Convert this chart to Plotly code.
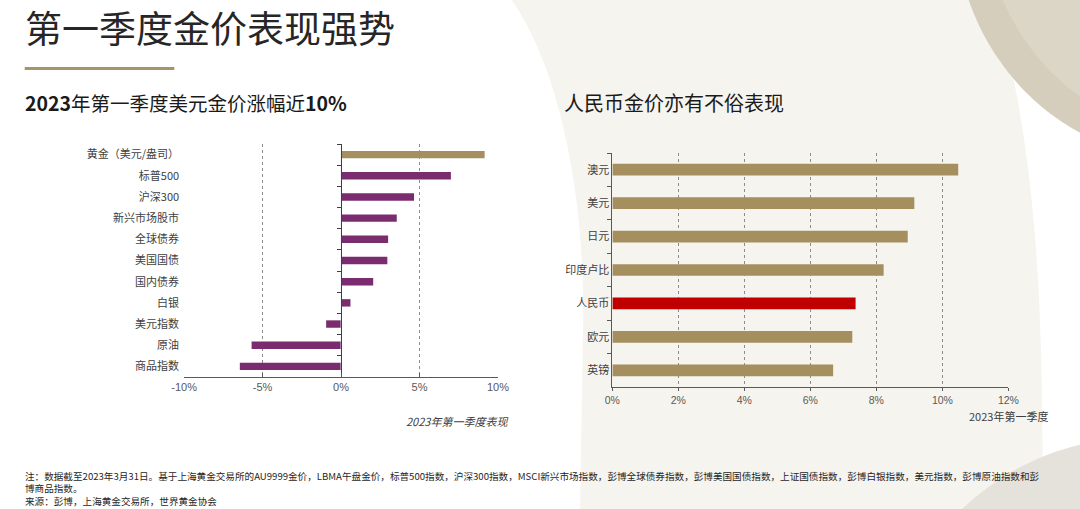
import plotly.graph_objects as go

W, H = 1080, 509

# ---------------- data ----------------
left_cats = ["黄金（美元/盎司）", "标普500", "沪深300", "新兴市场股市", "全球债券", "美国国债",
             "国内债券", "白银", "美元指数", "原油", "商品指数"]
left_vals = [9.15, 7.0, 4.65, 3.55, 3.0, 2.95, 2.05, 0.6, -0.95, -5.7, -6.45]
left_ticks = [-10, -5, 0, 5, 10]
left_ticktext = ["-10%", "-5%", "0%", "5%", "10%"]

right_cats = ["澳元", "美元", "日元", "印度卢比", "人民币", "欧元", "英镑"]
right_vals = [10.48, 9.15, 8.95, 8.22, 7.37, 7.27, 6.69]
right_ticks = [0, 2, 4, 6, 8, 10, 12]
right_ticktext = ["0%", "2%", "4%", "6%", "8%", "10%", "12%"]

title = "第一季度金价表现强势"
left_title = "<b>2023</b>年第一季度美元金价涨幅近<b>10%</b>"
right_title = "人民币金价亦有不俗表现"
left_xtitle = "<i>2023年第一季度表现</i>"
right_xtitle = "2023年第一季度"
notes = [
    "注：数据截至2023年3月31日。基于上海黄金交易所的AU9999金价，LBMA午盘金价，标普500指数，沪深300指数，MSCI新兴市场指数，彭博全球债券指数，彭博美国国债指数，上证国债指数，彭博白银指数，美元指数，彭博原油指数和彭",
    "博商品指数。",
    "来源：彭博，上海黄金交易所，世界黄金协会",
]

GOLD = "#a58f5f"
PURPLE = "#7b2c6f"
RED = "#c00000"
CJK = "Noto Sans CJK SC"
LAT = "Liberation Sans, Noto Sans CJK SC"


def px(x):
    return x / W


def py(y):
    return 1 - y / H


# domains (pixel-derived)
L_x0, L_x1 = 175, 496
L_y0, L_y1 = 144, 377
R_x0, R_x1 = 613, 1018
R_y0, R_y1 = 153, 387

fig = go.Figure()

left_colors = [GOLD] + [PURPLE] * (len(left_cats) - 1)
fig.add_trace(go.Bar(x=left_vals, y=left_cats, orientation="h", width=0.35,
                     marker=dict(color=left_colors, line=dict(width=0)),
                     xaxis="x", yaxis="y", showlegend=False, hoverinfo="skip"))
# helper trace for the centre axis (ticks at category boundaries)
fig.add_trace(go.Bar(x=[0] * len(left_cats), y=left_cats, orientation="h",
                     marker=dict(color="rgba(0,0,0,0)"),
                     xaxis="x", yaxis="y2", showlegend=False, hoverinfo="skip"))

right_colors = [RED if c == "人民币" else GOLD for c in right_cats]
fig.add_trace(go.Bar(x=right_vals, y=right_cats, orientation="h", width=0.35,
                     marker=dict(color=right_colors, line=dict(width=0)),
                     xaxis="x2", yaxis="y3", showlegend=False, hoverinfo="skip"))

zero_pos = px(L_x0 + (0 - left_ticks[0]) / (left_ticks[-1] - left_ticks[0]) * (L_x1 - L_x0))

fig.update_layout(
    width=W, height=H,
    margin=dict(l=0, r=0, t=0, b=0),
    paper_bgcolor="white",
    plot_bgcolor="rgba(0,0,0,0)",
    font=dict(family=CJK, color="#404040", size=11),
    xaxis=dict(domain=[px(L_x0), px(L_x1)], range=[left_ticks[0], left_ticks[-1]],
               tickvals=left_ticks, ticktext=left_ticktext, anchor="y",
               showline=True, linecolor="#595959", linewidth=1,
               ticks="inside", ticklen=4, tickcolor="#595959",
               showgrid=True, gridcolor="#8c8c8c", griddash="dot", gridwidth=1,
               zeroline=False, tickfont=dict(family=LAT, size=11, color="#595959"),
               fixedrange=True),
    yaxis=dict(domain=[py(L_y1), py(L_y0)], anchor="x", autorange="reversed",
               showline=False, ticks="", showgrid=False, ticklabelstandoff=4,
               tickfont=dict(family=CJK, size=11, color="#404040"), fixedrange=True),
    yaxis2=dict(overlaying="y", matches="y", anchor="free", position=zero_pos,
                showline=True, linecolor="#404040", linewidth=1,
                ticks="outside", tickson="boundaries", ticklen=4, tickcolor="#404040",
                showticklabels=False, showgrid=False, fixedrange=True),
    xaxis2=dict(domain=[px(R_x0), px(R_x1)], range=[right_ticks[0], right_ticks[-1]],
                tickvals=right_ticks, ticktext=right_ticktext, anchor="y3",
                showline=True, linecolor="#595959", linewidth=1,
                ticks="outside", ticklen=3, tickcolor="#595959",
                showgrid=True, gridcolor="#8c8c8c", griddash="dot", gridwidth=1,
                zeroline=False, tickfont=dict(family=LAT, size=10.5, color="#595959"),
                fixedrange=True),
    yaxis3=dict(domain=[py(R_y1), py(R_y0)], anchor="x2", autorange="reversed",
                showline=True, linecolor="#595959", linewidth=1,
                ticks="outside", tickson="boundaries", ticklen=4, tickcolor="#595959",
                showgrid=False, tickfont=dict(family=CJK, size=11, color="#404040"),
                fixedrange=True),
)

# ---------------- background decoration ----------------
def P(x, y):
    return f"{px(x):.5f},{py(y):.5f}"

cream_path = ("M " + P(510, 0) + " C " + P(560, 70) + " " + P(586, 200) + " " + P(583, 330) +
              " L " + P(580, 509) + " L " + P(1050, 509) + " L " + P(1053, 450) +
              " C " + P(1052, 260) + " " + P(1042, 140) + " " + P(1005, 0) + " Z")
shapes = [
    dict(type="path", path=cream_path, xref="paper", yref="paper",
         fillcolor="#f6f4ef", line=dict(width=0), layer="below"),
    dict(type="circle", xref="paper", yref="paper", x0=px(964), x1=px(1444), y0=py(161), y1=py(-319),
         fillcolor="#d5cebc", line=dict(width=0), layer="below"),
    dict(type="circle", xref="paper", yref="paper", x0=px(992), x1=px(1462), y0=py(140), y1=py(-330),
         fillcolor="#dcd6c6", line=dict(width=0), layer="below"),
    dict(type="circle", xref="paper", yref="paper", x0=px(888), x1=px(1412), y0=py(438), y1=py(962),
         fillcolor="#e5e2dc", line=dict(width=0), layer="below"),
    # gold underline below main title
    dict(type="rect", xref="paper", yref="paper", x0=px(12), x1=px(165), y0=py(70), y1=py(67),
         fillcolor="#a5956a", line=dict(width=0)),
]
fig.update_layout(shapes=shapes)

ann = []
ann.append(dict(text=title, x=px(10), y=py(27), xanchor="left", yanchor="middle",
                font=dict(family=CJK, size=37, color="#262626")))
ann.append(dict(text=left_title, x=px(10), y=py(102), xanchor="left", yanchor="middle",
                font=dict(family=CJK, size=19.5, color="#1a1a1a")))
ann.append(dict(text=right_title, x=px(561), y=py(103), xanchor="left", yanchor="middle",
                font=dict(family=CJK, size=20, color="#1a1a1a")))
ann.append(dict(text=left_xtitle, x=px(508), y=py(421), xanchor="right", yanchor="middle",
                font=dict(family=CJK, size=11, color="#404040")))
ann.append(dict(text=right_xtitle, x=px(1061), y=py(416), xanchor="right", yanchor="middle",
                font=dict(family=CJK, size=11, color="#404040")))
ann.append(dict(text="<br>".join(notes), x=px(10), y=py(488), xanchor="left", yanchor="middle",
                align="left", font=dict(family=CJK, size=9.6, color="#262626")))
for a in ann:
    a.update(xref="paper", yref="paper", showarrow=False)
fig.update_layout(annotations=ann)

fig.write_html("out.html", config={"displayModeBar": False},
               post_script="document.body.style.margin='0';document.body.style.overflow='hidden';")
